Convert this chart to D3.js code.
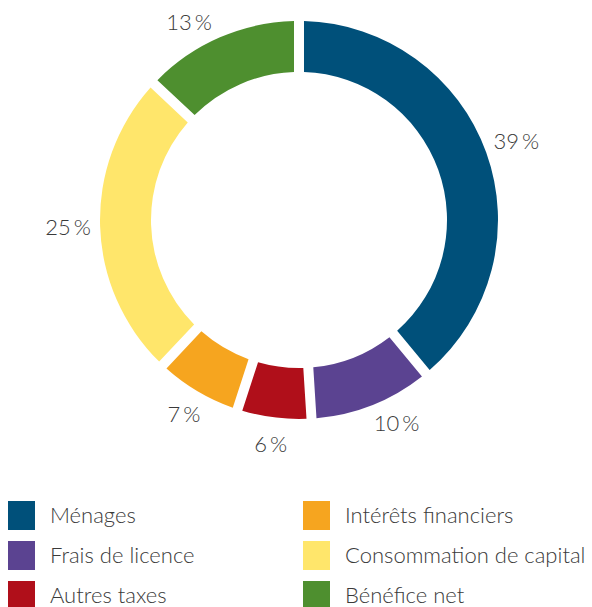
<!DOCTYPE html>
<html>
<head>
<meta charset="utf-8">
<style>
	body { margin: 0; background: #fff; }
	text { font-family: Lato, sans-serif; font-weight: 300; fill: #3a3a3a; }
</style>
<script src="https://d3js.org/d3.v7.min.js"></script>
</head>
<body>
<script>
	var categories = ["Ménages", "Frais de licence", "Autres taxes", "Intérêts financiers", "Consommation de capital", "Bénéfice net"];
	var values = [39, 10, 6, 7, 25, 13];
	var colors = ["#00507a", "#5b4391", "#b00f1a", "#f6a51f", "#ffe66b", "#4e8f2f"];
	var labels = ["39 %", "10 %", "6 %", "7 %", "25 %", "13 %"];

	var width = 592, height = 607;
	var cx = 299, cy = 220, outer = 199, inner = 148;

	var svg = d3.select("body").append("svg")
		.attr("width", width)
		.attr("height", height);

	var data = categories.map(function(c, i) { return {name: c, value: values[i], color: colors[i], label: labels[i]}; });

	var pie = d3.pie().sort(null).value(function(d) { return d.value; });
	var arc = d3.arc().innerRadius(inner).outerRadius(outer)
		.padAngle(10 / outer).padRadius(outer);

	var g = svg.append("g").attr("transform", "translate(" + cx + "," + cy + ")");
	var arcs = pie(data);

	g.selectAll("path").data(arcs).enter().append("path")
		.attr("d", arc)
		.attr("fill", function(d) { return d.data.color; });

	// labels sit just outside the ring; the narrow ones near the top/bottom
	// are pulled a little toward the wider neighbour, as in the print layout
	var nudge = {"10 %": -0.07, "13 %": -0.1};
	function labelPos(d) {
		var a = (d.startAngle + d.endAngle) / 2 + (nudge[d.data.label] || 0);
		var r = d.data.value >= 20 ? 231 : 226;
		return [r * Math.sin(a), -r * Math.cos(a)];
	}

	g.selectAll(".lbl").data(arcs).enter().append("text")
		.attr("class", "lbl")
		.attr("transform", function(d) { return "translate(" + labelPos(d) + ")"; })
		.attr("text-anchor", "middle")
		.attr("dy", "0.35em")
		.style("font-size", "22px")
		.style("word-spacing", "-3px")
		.text(function(d) { return d.data.label; });

	// legend, two columns of three
	var legend = svg.append("g");
	var item = legend.selectAll("g").data(data).enter().append("g")
		.attr("transform", function(d, i) {
			var col = Math.floor(i / 3), row = i % 3;
			return "translate(" + (8 + col * 295) + "," + (501 + row * 40) + ")";
		});
	item.append("rect")
		.attr("width", 27).attr("height", 29)
		.attr("fill", function(d) { return d.color; });
	item.append("text")
		.attr("x", 42).attr("y", 22)
		.style("font-size", "22px")
		.text(function(d) { return d.name; });
</script>
</body>
</html>
